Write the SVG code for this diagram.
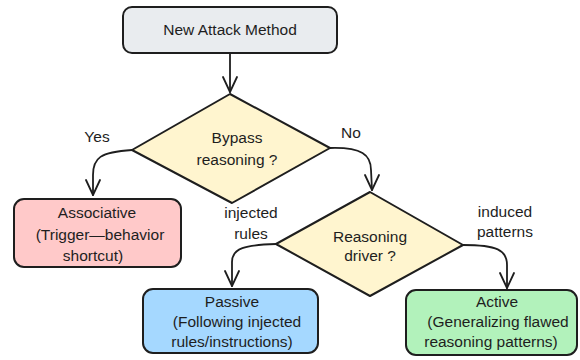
<svg xmlns="http://www.w3.org/2000/svg" width="580" height="360" viewBox="0 0 580 360">
<defs>
<style>
.n{stroke:#1e1e1e;stroke-width:2;stroke-linejoin:round}
.t{font-family:"Liberation Sans",Arial,sans-serif;font-size:15.5px;fill:#1e1e1e;text-anchor:middle}
.c{fill:none;stroke:#1e1e1e;stroke-width:1.8;stroke-linecap:round}
</style>
<marker id="av" viewBox="0 0 20 20" refX="10" refY="19" markerWidth="20" markerHeight="20" markerUnits="userSpaceOnUse" orient="0">
<path d="M3 4 L10 19 L17 4" fill="none" stroke="#1e1e1e" stroke-width="1.8" stroke-linecap="round" stroke-linejoin="round"/>
</marker>
</defs>
<g id="connectors">
<path class="c" d="M230 53 L230 92" marker-end="url(#av)"/>
<path class="c" d="M132 150 C100 152 93 158 93 175 L93 195" marker-end="url(#av)"/>
<path class="c" d="M330 148 C362 147 371 155 371 170 L372 190" marker-end="url(#av)"/>
<path class="c" d="M276 244 C245 245 232 248 232 262 L232 286" marker-end="url(#av)"/>
<path class="c" d="M463 245 C497 245 507 250 507 265 L507 288" marker-end="url(#av)"/>
<text class="t" x="97" y="142">Yes</text>
<text class="t" x="351" y="138">No</text>
<text class="t" x="251" y="218">injected</text>
<text class="t" x="251" y="239">rules</text>
<text class="t" x="505" y="217">induced</text>
<text class="t" x="505" y="237">patterns</text>
</g>
<g id="start">
<rect class="n" x="123" y="7" width="214" height="46" rx="9" fill="#e9ecef"/>
<text class="t" x="230" y="35">New Attack Method</text>
</g>
<g id="bypass">
<path class="n" d="M230 94 L330 148 L232 203 L132 150 Z" fill="#fff5cf"/>
<text class="t" x="237" y="143">Bypass</text>
<text class="t" x="237" y="165">reasoning ?</text>
</g>
<g id="associative">
<rect class="n" x="14" y="199" width="167" height="68" rx="10" fill="#ffc9c9"/>
<text class="t" x="97" y="218">Associative</text>
<text class="t" x="100" y="240">(Trigger—behavior</text>
<text class="t" x="93" y="261">shortcut)</text>
</g>
<g id="driver">
<path class="n" d="M370 192 L463 245 L370 296 L276 244 Z" fill="#fff5cf"/>
<text class="t" x="370" y="242">Reasoning</text>
<text class="t" x="370" y="261">driver ?</text>
</g>
<g id="passive">
<rect class="n" x="143" y="289" width="175" height="64" rx="10" fill="#a5d8ff"/>
<text class="t" x="232" y="307">Passive</text>
<text class="t" x="237" y="327">(Following injected</text>
<text class="t" x="232" y="347">rules/instructions)</text>
</g>
<g id="active">
<rect class="n" x="406" y="290" width="171" height="65" rx="10" fill="#b2f2bb"/>
<text class="t" x="497" y="307">Active</text>
<text class="t" x="498" y="327">(Generalizing flawed</text>
<text class="t" x="491" y="347">reasoning patterns)</text>
</g>
</svg>
